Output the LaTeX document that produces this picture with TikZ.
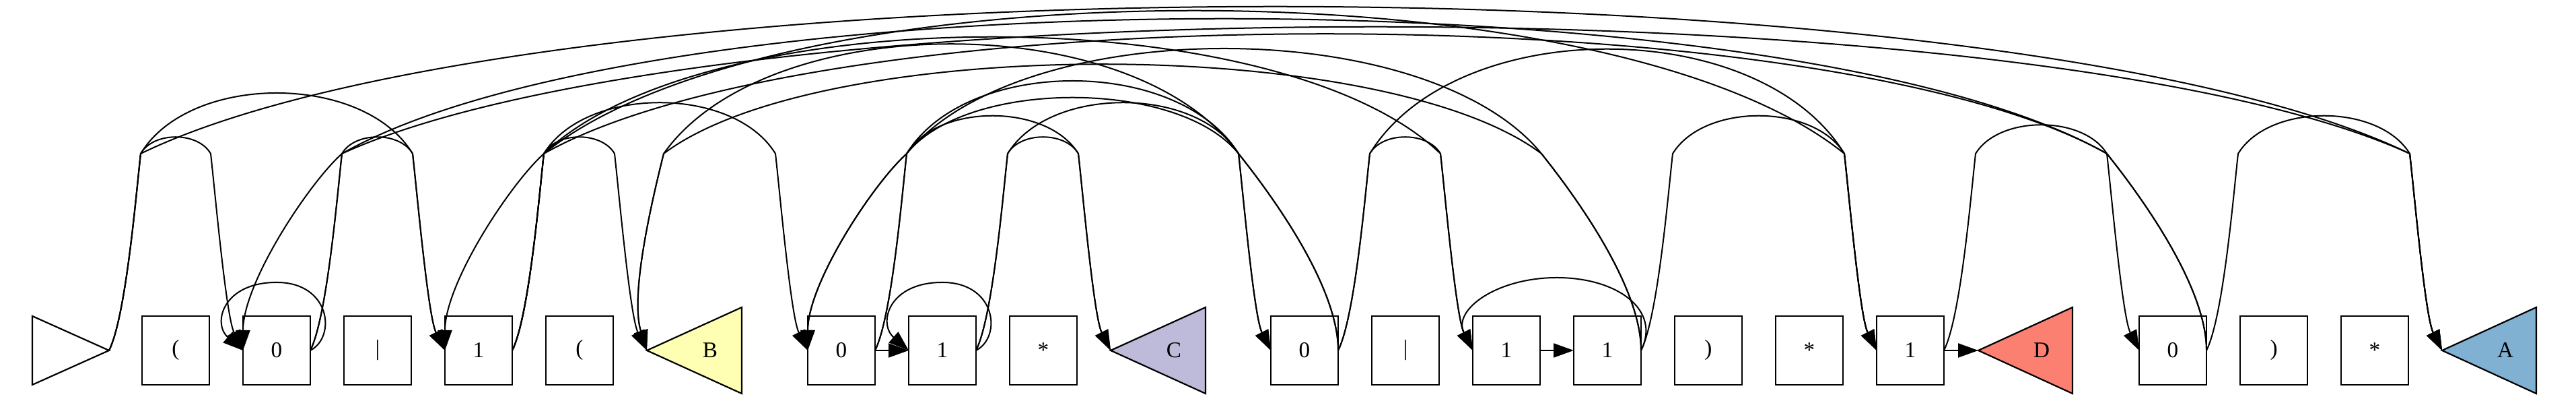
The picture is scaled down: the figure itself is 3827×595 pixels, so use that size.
\documentclass[tikz,border=0pt]{standalone}
\usepackage{fontspec}
\setmainfont{Liberation Serif}
\usetikzlibrary{arrows.meta,calc}
\definecolor{colB}{HTML}{FFFFB3}
\definecolor{colC}{HTML}{BEBADA}
\definecolor{colD}{HTML}{FB8072}
\definecolor{colA}{HTML}{80B1D3}
\tikzset{
  box/.style={draw, line width=0.55pt, minimum width=25pt, minimum height=25.5pt, inner sep=0pt, outer sep=0pt, font=\fontsize{8.3}{10}\selectfont},
  tri/.style={draw, line width=0.55pt, line join=miter},
  lbl/.style={inner sep=0pt, font=\fontsize{8.3}{10}\selectfont},
  edge/.style={line width=0.5pt, -{Triangle[length=7.5pt,width=5.25pt]}},
}
% forward arc: tail, head, a, k
\newcommand\fwd[4]{\draw[edge] (#1) .. controls +(25,-50) and +(-7,62) .. ($(#1)+(47,-292)$) .. controls +(#3,-#4) and +(-#3,-#4) .. ($(#2)+(-48,-292)$) .. controls +(7,62) and +(-25,-50) .. (#2);}
% backward arc into a box: tail, head, a, k
\newcommand\bwd[4]{\draw[edge] (#1) .. controls +(0,-100) and +(40,50) .. ($(#1)+(-148,-292)$) .. controls +(-#3,-#4) and +(#3,-#4) .. ($(#2)+(147,-292)$) .. controls +(-50,45) and +(0,-100) .. (#2);}
% backward arc into triangle B
\newcommand\bwdB[4]{\draw[edge] (#1) .. controls +(0,-100) and +(40,50) .. ($(#1)+(-148,-292)$) .. controls +(-#3,-#4) and +(#3,-#4) .. ($(#2)+(25,-292)$) .. controls +(-20,80) and +(-25,-80) .. (#2);}
\begin{document}
\begin{tikzpicture}[x=0.25pt,y=-0.25pt]
\useasboundingbox (0,0) rectangle (3827,595);
% start triangle
\draw[tri, fill=white] (48,469) -- (162,520) -- (48,571) -- cycle;
\coordinate (St) at (162,520);
% boxes
\node[box] (n1) at (261,520) {(};
\node[box] (n2) at (411,520) {0};
\node[box] (n3) at (561,520) {|};
\node[box] (n4) at (711,520) {1};
\node[box] (n5) at (861,520) {(};
\draw[tri, fill=colB] (961,520) -- (1102,456) -- (1102,584) -- cycle;
\coordinate (Bt) at (961,520);
\node[lbl] (B) at (1055,520) {B};
\node[box] (n7) at (1250,520) {0};
\node[box] (n8) at (1400,520) {1};
\node[box] (n9) at (1550,520) {*};
\draw[tri, fill=colC] (1650,520) -- (1791,456) -- (1791,584) -- cycle;
\coordinate (Ct) at (1650,520);
\node[lbl] (C) at (1744,520) {C};
\node[box] (n11) at (1938,520) {0};
\node[box] (n12) at (2088,520) {|};
\node[box] (n13) at (2238,520) {1};
\node[box] (n14) at (2388,520) {1};
\node[box] (n15) at (2538,520) {)};
\node[box] (n16) at (2688,520) {*};
\node[box] (n17) at (2838,520) {1};
\draw[tri, fill=colD] (2939,520) -- (3079,456) -- (3079,584) -- cycle;
\coordinate (Dt) at (2939,520);
\node[lbl] (D) at (3033,520) {D};
\node[box] (n19) at (3228,520) {0};
\node[box] (n20) at (3378,520) {)};
\node[box] (n21) at (3528,520) {*};
\draw[tri, fill=colA] (3628,520) -- (3768,456) -- (3768,584) -- cycle;
\coordinate (At) at (3628,520);
\node[lbl] (A) at (3722,520) {A};
% straight edges
\draw[edge] (n7.east) -- (n8.west);
\draw[edge] (n13.east) -- (n14.west);
\draw[edge] (n17.east) -- (Dt);
% loops
\draw[edge] (n2.east) .. controls +(39,-20) and +(80,0) .. ($(n2.north)+(0,-50)$) .. controls +(-80,0) and +(-46,-40) .. (n2.west);
\draw[edge] (n8.east) .. controls +(39,-20) and +(80,0) .. ($(n8.north)+(0,-50)$) .. controls +(-80,0) and +(-46,-40) .. (n8.west);
\draw[edge] (n14.east) .. controls +(30,-60) and +(90,0) .. ($(n13.north)!0.5!(n14.north)+(0,-57)$) .. controls +(-90,0) and +(-30,-60) .. (n13.west);
% forward arcs
\fwd{St}{n2.west}{19}{33}
\fwd{n2.east}{n4.west}{19}{33}
\fwd{n4.east}{Bt}{19}{33}
\fwd{n8.east}{Ct}{19}{33}
\fwd{n11.east}{n13.west}{19}{33}
\fwd{St}{n4.west}{73}{120}
\fwd{n4.east}{n7.west}{62}{101}
\fwd{n7.east}{Ct}{46}{75}
\fwd{n7.east}{n11.west}{89}{144}
\fwd{n8.east}{n11.west}{62}{101}
\fwd{n14.east}{n17.west}{46}{75}
\fwd{n17.east}{n19.west}{35}{57}
\fwd{n19.east}{At}{46}{75}
\fwd{n11.east}{n17.west}{127}{207}
\fwd{n4.east}{n13.west}{240}{231}
\fwd{n4.east}{n17.west}{350}{283}
\fwd{St}{At}{600}{291}
\fwd{n2.east}{At}{550}{251}
% backward arcs
\bwd{n11.east}{n7.west}{89}{111}
\bwd{n14.east}{n7.west}{170}{208}
\bwdB{n11.east}{Bt}{154}{217}
\bwdB{n14.east}{Bt}{235}{177}
\bwd{n19.east}{n2.west}{470}{267}
\bwd{n19.east}{n4.west}{420}{237}
\end{tikzpicture}
\end{document}
